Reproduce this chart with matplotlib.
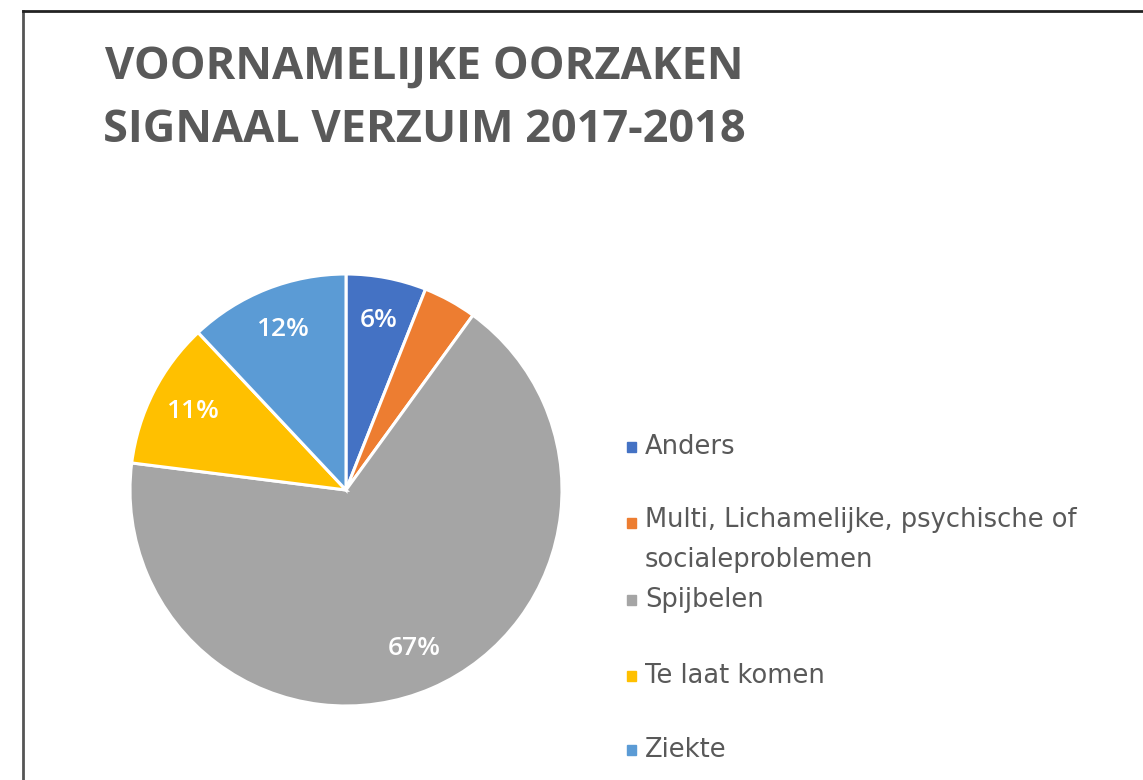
import matplotlib.pyplot as plt
from matplotlib.lines import Line2D
from matplotlib.patches import Rectangle

# data
labels = ['Anders', 'Multi, Lichamelijke, psychische of\nsocialeproblemen', 'Spijbelen',
          'Te laat komen', 'Ziekte']
values = [6, 4, 67, 11, 12]
colors = ['#4472C4', '#ED7D31', '#A5A5A5', '#FFC000', '#5B9BD5']
title = 'VOORNAMELIJKE OORZAKEN\nSIGNAAL VERZUIM 2017-2018'

W, H = 1143, 780
fig = plt.figure(figsize=(W / 100, H / 100), dpi=100)

# pie axes: centre ~ (346, 490) px, radius ~216 px
cx, cy, r = 346, 490, 216
ax = fig.add_axes([(cx - r) / W, (H - cy - r) / H, 2 * r / W, 2 * r / H])


def fmt(p):
    return '{:.0f}%'.format(p) if p >= 5 else ''


wedges, texts, autotexts = ax.pie(values, colors=colors, startangle=90, counterclock=False,
                                  autopct=fmt, pctdistance=0.8,
                                  wedgeprops=dict(edgecolor='white', linewidth=2.2),
                                  textprops=dict(color='white', fontsize=19, family='Open Sans',
                                                 fontweight='semibold'))
ax.set_xlim(-1.0, 1.0)
ax.set_ylim(-1.0, 1.0)
ax.set_aspect('equal')
ax.axis('off')

# title
fig.text(424 / W, 1 - 99 / H, title, ha='center', va='center', fontsize=32.5,
         fontweight='bold', color='#595959', family='Open Sans', linespacing=1.55)

# legend (Excel-like irregular spacing)
legend_y = [447, 523, 600, 676, 750]
for lab, col, y in zip(labels, colors, legend_y):
    fig.patches.append(Rectangle((627 / W, 1 - (y + 5) / H), 9 / W, 10 / H,
                                 transform=fig.transFigure, color=col, figure=fig))
    if '\n' in lab:
        fig.text(645 / W, 1 - (y - 16) / H, lab, ha='left', va='top',
                 fontsize=18.5, color='#595959', family='DejaVu Sans', linespacing=1.7)
    else:
        fig.text(645 / W, 1 - y / H, lab, ha='left', va='center',
                 fontsize=18.5, color='#595959', family='DejaVu Sans')

# frame lines
fig.add_artist(Line2D([23 / W, 23 / W], [0, 1 - 11 / H], color='#555555', linewidth=2,
                      transform=fig.transFigure))
fig.add_artist(Line2D([23 / W, 1], [1 - 11 / H, 1 - 11 / H], color='#222222', linewidth=2,
                      transform=fig.transFigure))

plt.savefig('out.png', dpi=100)
